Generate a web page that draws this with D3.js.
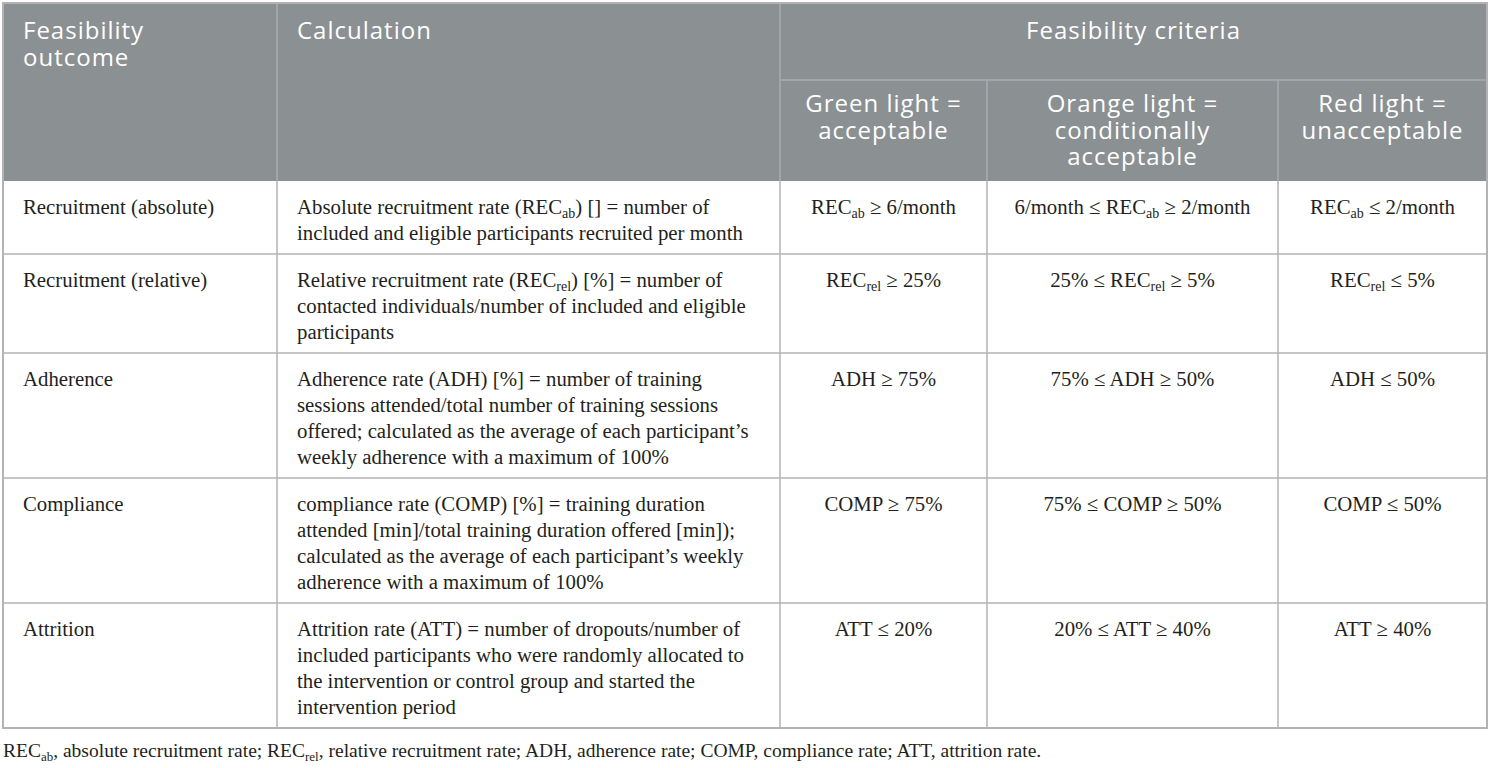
<!DOCTYPE html>
<html>
<head>
<meta charset="utf-8">
<script src="https://cdn.jsdelivr.net/npm/d3@7"></script>
<style>
  body { margin: 0; background: #fff; }
  svg { display: block; }
</style>
</head>
<body>
<div id="chart"></div>
<script>
// ---- table content ----
const headerCols = [["Feasibility", "outcome"], ["Calculation"]];
const groupHeader = "Feasibility criteria";
const criteriaHeaders = [
  ["Green light =", "acceptable"],
  ["Orange light =", "conditionally", "acceptable"],
  ["Red light =", "unacceptable"]
];

const outcomes = [
  "Recruitment (absolute)",
  "Recruitment (relative)",
  "Adherence",
  "Compliance",
  "Attrition"
];

const calculations = [
  ["Absolute recruitment rate (REC_{ab}) [] = number of",
   "included and eligible participants recruited per month"],
  ["Relative recruitment rate (REC_{rel}) [%] = number of",
   "contacted individuals/number of included and eligible",
   "participants"],
  ["Adherence rate (ADH) [%] = number of training",
   "sessions attended/total number of training sessions",
   "offered; calculated as the average of each participant’s",
   "weekly adherence with a maximum of 100%"],
  ["compliance rate (COMP) [%] = training duration",
   "attended [min]/total training duration offered [min]);",
   "calculated as the average of each participant’s weekly",
   "adherence with a maximum of 100%"],
  ["Attrition rate (ATT) = number of dropouts/number of",
   "included participants who were randomly allocated to",
   "the intervention or control group and started the",
   "intervention period"]
];

const greenLight = ["REC_{ab} ≥ 6/month", "REC_{rel} ≥ 25%", "ADH ≥ 75%", "COMP ≥ 75%", "ATT ≤ 20%"];
const orangeLight = ["6/month ≤ REC_{ab} ≥ 2/month", "25% ≤ REC_{rel} ≥ 5%", "75% ≤ ADH ≥ 50%", "75% ≤ COMP ≥ 50%", "20% ≤ ATT ≥ 40%"];
const redLight = ["REC_{ab} ≤ 2/month", "REC_{rel} ≤ 5%", "ADH ≤ 50%", "COMP ≤ 50%", "ATT ≥ 40%"];

const footnote = "REC_{ab}, absolute recruitment rate; REC_{rel}, relative recruitment rate; ADH, adherence rate; COMP, compliance rate; ATT, attrition rate.";

// ---- layout ----
const W = 1491, H = 768;
const tblLeft = 3, tblTop = 3;
const colWidths = [274, 503, 207, 291, 209];
const headTopH = 77, headH = 178;
const lineH = 26;
const rowHeight = n => lineH * n + 21;

const colKeys = d3.range(colWidths.length);
const colEdges = [tblLeft].concat(Array.from(d3.cumsum(colWidths), v => v + tblLeft));
const colX = d3.scaleOrdinal().domain(colKeys).range(colEdges.slice(0, -1));
const colW = d3.scaleOrdinal().domain(colKeys).range(colWidths);
const tblRight = colEdges[colEdges.length - 1];

const rowKeys = d3.range(outcomes.length);
const rowHs = calculations.map(c => rowHeight(c.length));
const bodyTop = tblTop + headH;
const rowEdges = [bodyTop].concat(Array.from(d3.cumsum(rowHs), v => v + bodyTop));
const rowY = d3.scaleOrdinal().domain(rowKeys).range(rowEdges.slice(0, -1));
const tblBottom = rowEdges[rowEdges.length - 1];

const headBg = "#8b9093", headLine = "#a9adb0", gridLine = "#b3b3b3";
const sansFont = "'Open Sans', 'DejaVu Sans', sans-serif";
const serifFont = "'Liberation Serif', 'DejaVu Serif', serif";

const svg = d3.select("#chart")
  .append("svg")
  .attr("width", W)
  .attr("height", H);

// write text with REC_{ab} style subscripts
function richText(sel, str, subSize) {
  const parts = str.split(/(_\{[^}]*\})/);
  let shifted = false;
  parts.forEach(p => {
    if (!p) return;
    if (p.startsWith("_{")) {
      sel.append("tspan")
        .attr("dy", 4)
        .attr("font-size", subSize)
        .text(p.slice(2, -1));
      shifted = true;
    } else {
      const t = sel.append("tspan").text(p);
      if (shifted) { t.attr("dy", -4); shifted = false; }
    }
  });
}

// ---- header ----
svg.append("rect")
  .attr("x", tblLeft).attr("y", tblTop)
  .attr("width", tblRight - tblLeft).attr("height", headH)
  .attr("fill", headBg);

const hdr = svg.append("g")
  .attr("font-family", sansFont)
  .attr("font-size", 24)
  .attr("letter-spacing", 1)
  .attr("fill", "#fff");

headerCols.forEach((lines, i) => {
  const t = hdr.append("text").attr("x", colX(i) + 20).attr("y", tblTop + 36);
  lines.forEach((l, j) => t.append("tspan")
    .attr("x", colX(i) + 20).attr("dy", j ? 27 : 0).text(l));
});

hdr.append("text")
  .attr("x", (colX(2) + tblRight) / 2)
  .attr("y", tblTop + 36)
  .attr("text-anchor", "middle")
  .text(groupHeader);

criteriaHeaders.forEach((lines, i) => {
  const c = i + 2;
  const cx = colX(c) + colW(c) / 2;
  const t = hdr.append("text").attr("text-anchor", "middle").attr("y", tblTop + headTopH + 32);
  lines.forEach((l, j) => t.append("tspan")
    .attr("x", cx).attr("dy", j ? 26.5 : 0).text(l));
});

// header dividers
const hl = svg.append("g").attr("stroke", headLine).attr("stroke-width", 1.5);
[1, 2].forEach(c => hl.append("line")
  .attr("x1", colX(c)).attr("x2", colX(c))
  .attr("y1", tblTop).attr("y2", tblTop + headH));
[3, 4].forEach(c => hl.append("line")
  .attr("x1", colX(c)).attr("x2", colX(c))
  .attr("y1", tblTop + headTopH).attr("y2", tblTop + headH));
hl.append("line")
  .attr("x1", colX(2)).attr("x2", tblRight)
  .attr("y1", tblTop + headTopH).attr("y2", tblTop + headTopH);

// ---- body ----
const body = svg.append("g")
  .attr("font-family", serifFont)
  .attr("font-size", 20.8)
  .attr("fill", "#231f20");

const rows = body.selectAll("g.row")
  .data(rowKeys)
  .enter()
  .append("g")
  .attr("class", "row")
  .attr("transform", i => `translate(0,${rowY(i) + 33})`);

rows.append("text")
  .attr("x", colX(0) + 20)
  .text(i => outcomes[i]);

rows.each(function(i) {
  const g = d3.select(this);
  calculations[i].forEach((line, j) => {
    const t = g.append("text").attr("x", colX(1) + 20).attr("y", j * lineH);
    richText(t, line, 14);
  });
  [greenLight, orangeLight, redLight].forEach((arr, k) => {
    const c = k + 2;
    const t = g.append("text")
      .attr("x", colX(c) + colW(c) / 2)
      .attr("text-anchor", "middle");
    richText(t, arr[i], 14);
  });
});

// grid lines
const grid = svg.append("g").attr("stroke", gridLine).attr("stroke-width", 1.5).attr("fill", "none");
rowEdges.slice(1, -1).forEach(y => grid.append("line")
  .attr("x1", tblLeft).attr("x2", tblRight).attr("y1", y).attr("y2", y));
colEdges.slice(1, -1).forEach(x => grid.append("line")
  .attr("x1", x).attr("x2", x).attr("y1", bodyTop).attr("y2", tblBottom));
grid.append("rect")
  .attr("x", tblLeft).attr("y", tblTop)
  .attr("width", tblRight - tblLeft).attr("height", tblBottom - tblTop)
  .attr("stroke-width", 2);

// ---- footnote ----
const fn = svg.append("text")
  .attr("x", tblLeft)
  .attr("y", tblBottom + 29)
  .attr("font-family", serifFont)
  .attr("font-size", 19.5)
  .attr("fill", "#231f20");
richText(fn, footnote, 13);
</script>
</body>
</html>
